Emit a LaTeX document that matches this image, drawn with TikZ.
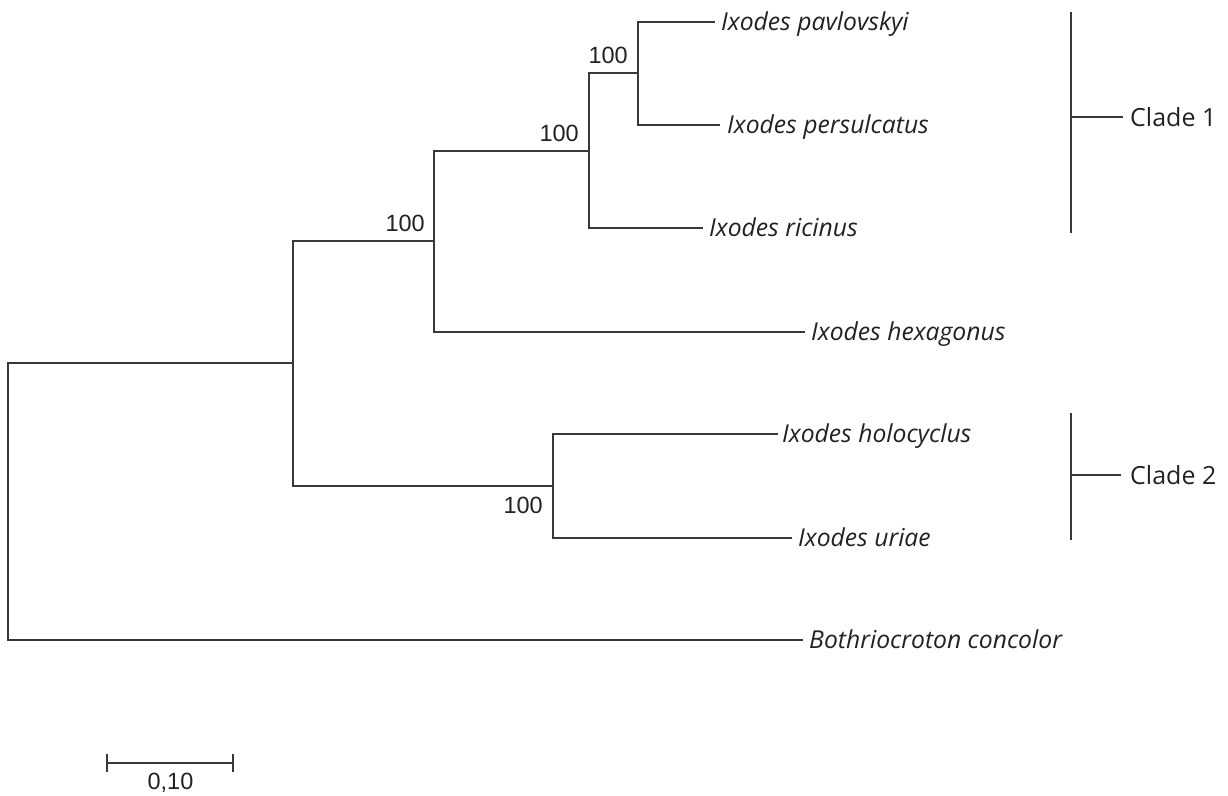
\documentclass[tikz,border=0pt]{standalone}
\usepackage{fontspec}
\setmainfont{Open Sans}
\newfontfamily\numfont{Liberation Sans}
\definecolor{linegray}{HTML}{383838}
\definecolor{txt}{HTML}{222222}
\begin{document}
\begin{tikzpicture}[x=1pt,y=-1pt,
  branch/.style={draw=linegray, line width=2pt},
  taxon/.style={anchor=base west, inner sep=0pt, text=txt, font=\fontsize{24.7}{29}\selectfont\itshape},
  boot/.style={inner sep=0pt, text=txt, font=\numfont\fontsize{23.5}{27}\selectfont},
  cladelab/.style={anchor=west, inner xsep=7pt, inner ysep=0pt, text=txt, font=\fontsize{25}{29}\selectfont}]
\useasboundingbox (0,0) rectangle (1228,795);
% internal nodes
\coordinate (R) at (8,501);
\coordinate (A) at (293,363);
\coordinate (B) at (434,241);
\coordinate (C) at (553,486);
\coordinate (D) at (589,151);
\coordinate (E) at (638,73);
% tips
\coordinate (tPav) at (715,22);
\coordinate (tPers) at (720,125);
\coordinate (tRic) at (703,228);
\coordinate (tHex) at (805,332);
\coordinate (tHolo) at (778,434);
\coordinate (tUri) at (792,538);
\coordinate (tBoth) at (803,640);
% branches
\draw[branch] (tPav) -| (E) |- (tPers);
\draw[branch] (E) -| (D) |- (tRic);
\draw[branch] (D) -| (B) |- (tHex);
\draw[branch] (tHolo) -| (C) |- (tUri);
\draw[branch] (B) -| (A) |- (C);
\draw[branch] (A) -| (R) |- (tBoth);
% taxon labels
\node[taxon] (lPav) at ([shift={(6,8.8)}]tPav) {Ixodes pavlovskyi};
\node[taxon] (lPers) at ([shift={(7,8.8)}]tPers) {Ixodes persulcatus};
\node[taxon] (lRic) at ([shift={(6,8.8)}]tRic) {Ixodes ricinus};
\node[taxon] (lHex) at ([shift={(6,8.8)}]tHex) {Ixodes hexagonus};
\node[taxon] (lHolo) at ([shift={(4,8.8)}]tHolo) {Ixodes holocyclus};
\node[taxon] (lUri) at ([shift={(6,8.8)}]tUri) {Ixodes uriae};
\node[taxon] (lBoth) at ([shift={(6,8.8)}]tBoth) {Bothriocroton concolor};
% bootstrap values
\node[boot, anchor=base east] (bE) at ([shift={(-10,-10)}]E) {100};
\node[boot, anchor=base east] (bD) at ([shift={(-10,-10)}]D) {100};
\node[boot, anchor=base east] (bB) at ([shift={(-9,-10)}]B) {100};
\node[boot, anchor=north east] (bC) at ([shift={(-10,11)}]C) {100};
% clade bars
\coordinate (c1top) at (1071,12);
\coordinate (c1bot) at (1071,233);
\coordinate (c1mid) at (1071,117);
\node[cladelab] (clade1) at (1123,117) {Clade 1};
\draw[branch] (c1top) -- (c1bot);
\draw[branch] (c1mid) -- (clade1.west);
\coordinate (c2top) at (1071,413);
\coordinate (c2bot) at (1071,540);
\coordinate (c2mid) at (1071,475);
\node[cladelab, inner xsep=9pt] (clade2) at (1121,475) {Clade 2};
\draw[branch] (c2top) -- (c2bot);
\draw[branch] (c2mid) -- (clade2.west);
% scale bar
\coordinate (sbL) at (107,763);
\coordinate (sbR) at (233,763);
\coordinate (sbLt) at (107,754);
\coordinate (sbLb) at (107,772);
\coordinate (sbRt) at (233,754);
\coordinate (sbRb) at (233,772);
\draw[branch] (sbL) -- (sbR);
\draw[branch] (sbLt) -- (sbLb);
\draw[branch] (sbRt) -- (sbRb);
\node[boot, anchor=north] (sblab) at (170.5,773) {0,10};
\end{tikzpicture}
\end{document}
